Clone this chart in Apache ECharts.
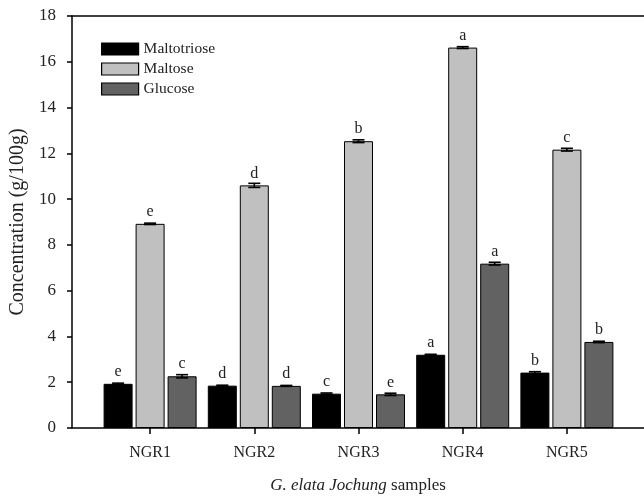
<!DOCTYPE html>
<html>
<head>
<meta charset="utf-8">
<script src="https://cdn.jsdelivr.net/npm/echarts@6/dist/echarts.min.js"></script>
<style>html,body{margin:0;padding:0;background:#fff}#c{width:644px;height:497px}</style>
</head>
<body>
<div id="c"></div>
<script>
var categories = ['NGR1', 'NGR2', 'NGR3', 'NGR4', 'NGR5'];
var seriesNames = ['Maltotriose', 'Maltose', 'Glucose'];
var maltotriose = [1.93, 1.85, 1.50, 3.20, 2.42];
var maltose = [8.92, 10.60, 12.53, 16.62, 12.16];
var glucose = [2.26, 1.84, 1.47, 7.18, 3.76];
var maltotrioseErr = [0.03, 0.02, 0.03, 0.02, 0.04];
var maltoseErr = [0.03, 0.09, 0.06, 0.04, 0.06];
var glucoseErr = [0.07, 0.02, 0.05, 0.06, 0.03];
var maltotrioseLetters = ['e', 'd', 'c', 'a', 'b'];
var maltoseLetters = ['e', 'd', 'b', 'a', 'c'];
var glucoseLetters = ['c', 'd', 'e', 'a', 'b'];
var yTicks = [0, 2, 4, 6, 8, 10, 12, 14, 16, 18];

var FONT = '"Liberation Serif", "Times New Roman", serif';
var colors = ['#000000', '#c0c0c0', '#626262'];
var values = [maltotriose, maltose, glucose];
var errs = [maltotrioseErr, maltoseErr, glucoseErr];
var letters = [maltotrioseLetters, maltoseLetters, glucoseLetters];
var BAR_W = 29, GAP = 3;

var chart = echarts.init(document.getElementById('c'), null, {renderer: 'canvas'});

var series = [];
seriesNames.forEach(function (name, si) {
  series.push({
    name: name, type: 'bar', xAxisIndex: 2, yAxisIndex: 1,
    barWidth: BAR_W, barGap: (GAP / BAR_W * 100) + '%',
    itemStyle: {color: colors[si], borderColor: '#000', borderWidth: 1},
    label: {
      show: true, position: 'top',
      distance: 4,
      formatter: function (p) { return letters[si][p.dataIndex]; },
      fontFamily: FONT, fontSize: 16, color: '#222'
    },
    data: values[si],
    z: 2
  });
});
// error bars
seriesNames.forEach(function (name, si) {
  series.push({
    type: 'custom', xAxisIndex: 2, yAxisIndex: 1, z: 5, silent: true,
    data: values[si].map(function (v, i) { return [i, v, errs[si][i]]; }),
    renderItem: function (params, api) {
      var ci = api.value(0), v = api.value(1), e = api.value(2);
      var c = api.coord([ci, v]);
      var offset = (si - 1) * (BAR_W + GAP);
      var x = c[0] + offset;
      var top = api.coord([ci, v + e])[1];
      var bot = api.coord([ci, v - e])[1];
      var hw = 6;
      var st = {stroke: '#000', lineWidth: 1.6};
      return {type: 'group', children: [
        {type: 'line', shape: {x1: x, y1: top, x2: x, y2: bot}, style: st},
        {type: 'line', shape: {x1: x - hw, y1: top, x2: x + hw, y2: top}, style: st},
        {type: 'line', shape: {x1: x - hw, y1: bot, x2: x + hw, y2: bot}, style: st}
      ]};
    }
  });
});

chart.setOption({
  animation: false,
  textStyle: {fontFamily: FONT},
  legend: {
    data: seriesNames, orient: 'vertical', left: 96, top: 36,
    icon: 'rect',
    itemWidth: 37, itemHeight: 12, itemGap: 4,
    textStyle: {fontFamily: FONT, fontSize: 15.5, color: '#222'},
    itemStyle: {borderColor: '#000', borderWidth: 1.2}
  },
  grid: [
    {left: 72, right: 0, top: 16, bottom: 69, containLabel: false, outerBoundsMode: 'none'},
    {left: 98, right: 25, top: 16, bottom: 69, containLabel: false, outerBoundsMode: 'none'}
  ],
  xAxis: [
    {gridIndex: 0, type: 'value', min: 0, max: 1, position: 'bottom',
     axisLine: {show: true, lineStyle: {color: '#000', width: 1.5}},
     axisTick: {show: false}, axisLabel: {show: false}, splitLine: {show: false},
     name: '{i|G. elata Jochung} samples', nameLocation: 'middle', nameGap: 49,
     nameTextStyle: {fontFamily: FONT, fontSize: 17, color: '#222',
       rich: {i: {fontFamily: FONT, fontSize: 17, fontStyle: 'italic', color: '#222'}}}},
    {gridIndex: 0, type: 'value', min: 0, max: 1, position: 'top',
     axisLine: {show: true, lineStyle: {color: '#000', width: 1.5}},
     axisTick: {show: false}, axisLabel: {show: false}, splitLine: {show: false}},
    {gridIndex: 1, type: 'category', data: categories,
     axisLine: {show: false},
     axisTick: {show: true, alignWithLabel: true, length: 6, lineStyle: {color: '#000', width: 1.5}},
     axisLabel: {fontFamily: FONT, fontSize: 16, color: '#222', margin: 17},
     splitLine: {show: false}}
  ],
  yAxis: [
    {gridIndex: 0, type: 'value', min: 0, max: 18, interval: 2,
     axisLine: {show: true, lineStyle: {color: '#000', width: 1.5}},
     axisTick: {show: true, inside: false, length: 5, lineStyle: {color: '#000', width: 1.5}},
     axisLabel: {fontFamily: FONT, fontSize: 17, color: '#222', margin: 16,
       formatter: function (v) { return yTicks.indexOf(v) >= 0 ? String(v) : ''; }},
     splitLine: {show: false},
     name: 'Concentration (g/100g)', nameLocation: 'middle', nameGap: 44,
     nameTextStyle: {fontFamily: FONT, fontSize: 20, color: '#222'}},
    {gridIndex: 1, type: 'value', min: 0, max: 18, interval: 2, show: false}
  ],
  series: series
});
</script>
</body>
</html>
